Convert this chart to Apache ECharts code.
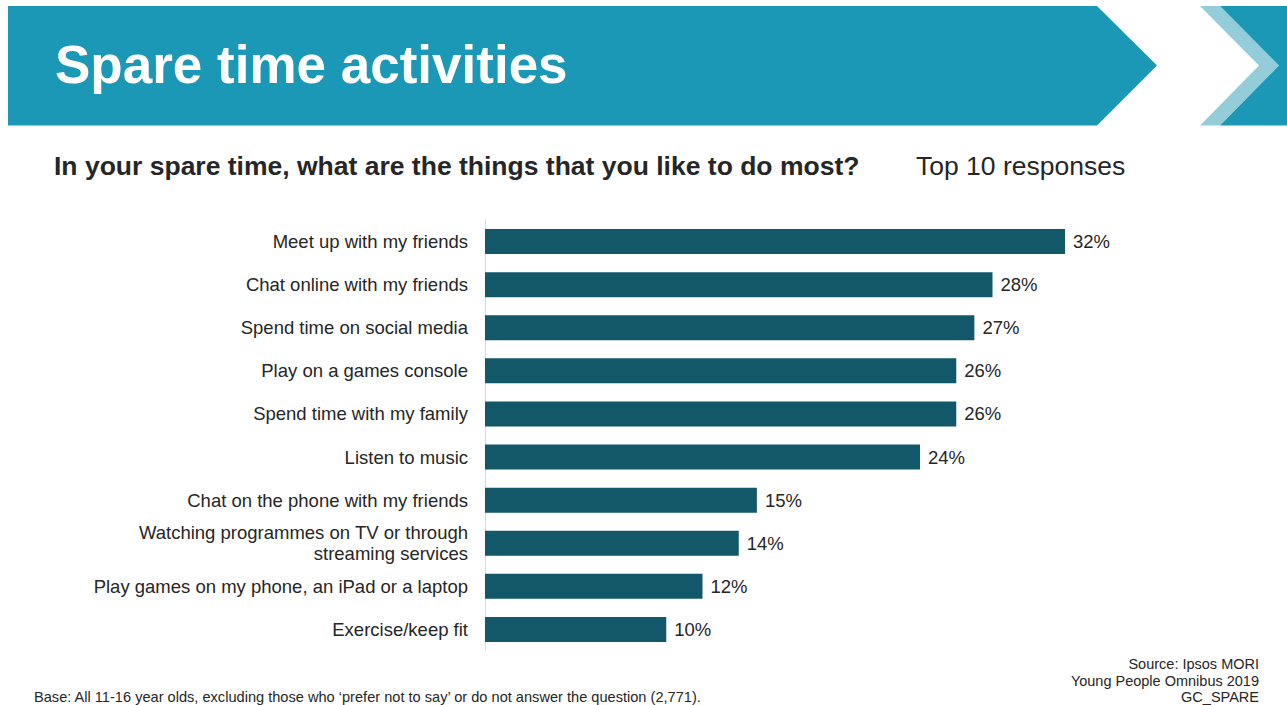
<!DOCTYPE html>
<html>
<head>
<meta charset="utf-8">
<script src="https://cdn.jsdelivr.net/npm/echarts@6/dist/echarts.min.js"></script>
<style>
html,body{margin:0;padding:0;background:#fff;}
#chart{width:1287px;height:705px;}
</style>
</head>
<body>
<div id="chart"></div>
<script>
const categories = [
  "Meet up with my friends",
  "Chat online with my friends",
  "Spend time on social media",
  "Play on a games console",
  "Spend time with my family",
  "Listen to music",
  "Chat on the phone with my friends",
  "Watching programmes on TV or through\nstreaming services",
  "Play games on my phone, an iPad or a laptop",
  "Exercise/keep fit"
];
const values = [32, 28, 27, 26, 26, 24, 15, 14, 12, 10];

const titleText = "Spare time activities";
const questionText = "In your spare time, what are the things that you like to do most?";
const subNote = "Top 10 responses";
const baseNote = "Base: All 11-16 year olds, excluding those who \u2018prefer not to say\u2019 or do not answer the question (2,771).";
const sourceLines = ["Source: Ipsos MORI", "Young People Omnibus 2019", "GC_SPARE"];

const FONT = "Liberation Sans, Arial, sans-serif";
const TEAL = "#1b98b5";
const LIGHT = "#93cdd9";
const BAR = "#125868";
const TXT = "#262626";

const graphics = [
  {type: 'polygon', shape: {points: [[8,6],[1097,6],[1157,65.5],[1097,125.5],[8,125.5]]}, style: {fill: TEAL}},
  {type: 'polygon', shape: {points: [[1200,6],[1220,6],[1279,65.5],[1220,125.5],[1200,125.5],[1259,65.5]]}, style: {fill: LIGHT}},
  {type: 'polygon', shape: {points: [[1220,6],[1287,6],[1287,125.5],[1220,125.5],[1279,65.5]]}, style: {fill: TEAL}},
  {type: 'text', left: 55, top: 38, style: {text: titleText, fill: '#ffffff', font: 'bold 53px ' + FONT}},
  {type: 'text', left: 54, top: 152, style: {text: questionText, fill: TXT, font: 'bold 26.5px ' + FONT}},
  {type: 'text', left: 916, top: 152, style: {text: subNote, fill: TXT, font: '26.5px ' + FONT}},
  {type: 'text', left: 34, top: 689, style: {text: baseNote, fill: TXT, font: '14.6px ' + FONT}}
];
sourceLines.forEach(function (line, i) {
  graphics.push({type: 'text', style: {x: 1259, y: 664 + i * 16.5, text: line, fill: TXT,
    font: '14.5px ' + FONT, textAlign: 'right', textVerticalAlign: 'middle'}});
});

const chart = echarts.init(document.getElementById('chart'), null, {renderer: 'svg'});
chart.setOption({
  animation: false,
  backgroundColor: '#ffffff',
  textStyle: {fontFamily: FONT},
  grid: {left: 485, top: 220, right: 77, bottom: 54, containLabel: false},
  xAxis: {
    type: 'value', min: 0, max: 40,
    show: false
  },
  yAxis: {
    type: 'category',
    data: categories,
    inverse: true,
    axisLine: {show: true, lineStyle: {color: '#d9d9d9', width: 1}},
    axisTick: {show: false},
    axisLabel: {
      color: TXT, fontSize: 18.5, fontFamily: FONT, margin: 17,
      align: 'right', lineHeight: 21
    }
  },
  series: [{
    type: 'bar',
    data: values,
    barWidth: 25,
    itemStyle: {color: BAR},
    label: {
      show: true, position: 'right', distance: 8,
      formatter: '{c}%', color: TXT, fontSize: 18.5, fontFamily: FONT
    }
  }],
  graphic: graphics
});
</script>
</body>
</html>
